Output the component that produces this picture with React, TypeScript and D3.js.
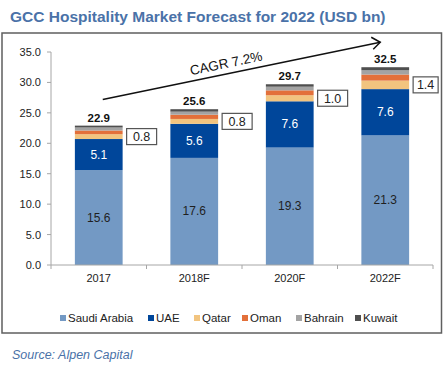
import * as d3 from "d3";

const W = 444, H = 368;
const FONT = "'Liberation Sans', Arial, sans-serif";

const years = ["2017", "2018F", "2020F", "2022F"];
const saudi = [15.6, 17.6, 19.3, 21.3];
const uae = [5.1, 5.6, 7.6, 7.6];
const qatar = [0.8, 0.8, 1.0, 1.4];
const oman = [0.6, 0.7, 0.8, 1.0];
const bahrain = [0.5, 0.5, 0.6, 0.7];
const kuwait = [0.3, 0.4, 0.4, 0.5];
const totals = [22.9, 25.6, 29.7, 32.5];
const yTicks = [0, 5, 10, 15, 20, 25, 30, 35];

const seriesNames = ["Saudi Arabia", "UAE", "Qatar", "Oman", "Bahrain", "Kuwait"];
const seriesColors = ["#7399C4", "#00469A", "#F2C47F", "#E3703A", "#A3A3A3", "#4F4F4F"];
const seriesVals = [saudi, uae, qatar, oman, bahrain, kuwait];

export default function App() {
  const x = d3.scaleBand<string>().domain(years).range([51, 433]).paddingInner(0.5).paddingOuter(0.25);
  const y = d3.scaleLinear([0, 35], [265, 52]);
  const bw = x.bandwidth();

  const table = years.map((yr, i) => {
    const row: Record<string, number | string> = { year: yr };
    seriesNames.forEach((n, k) => (row[n] = seriesVals[k][i]));
    return row;
  });
  const stacked = d3.stack<Record<string, number | string>>().keys(seriesNames)(table as any);

  // CAGR arrow: from above first bar to above last bar
  const ax1 = x("2017")! + bw / 2 + 4, ay1 = y(27.2);
  const ax2 = x("2022F")! + bw / 2 - 5, ay2 = y(36.6);
  const ang = (Math.atan2(ay2 - ay1, ax2 - ax1) * 180) / Math.PI;
  const tx = 227, ty = ay1 + ((tx - ax1) / (ax2 - ax1)) * (ay2 - ay1) - 6;

  const legendX = [60, 148, 194, 242, 296, 355];

  return (
    <svg width={W} height={H} style={{ position: "absolute", left: 0, top: 0, background: "#fff" }} fontFamily={FONT}>
      <text x={10} y={22} fontSize={15.5} fontWeight="bold" fill="#4A72A8">
        GCC Hospitality Market Forecast for 2022 (USD bn)
      </text>
      <rect x={2} y={33} width={439.5} height={300} fill="none" stroke="#5f5f5f" strokeWidth={1.5} />

      {/* y axis */}
      <line x1={51} x2={51} y1={y(35)} y2={y(0)} stroke="#a6a6a6" />
      {yTicks.map((t) => (
        <g key={t}>
          <line x1={47} x2={51} y1={y(t)} y2={y(t)} stroke="#a6a6a6" />
          <text x={41} y={y(t) + 4} fontSize={11} textAnchor="end" fill="#222">
            {t.toFixed(1)}
          </text>
        </g>
      ))}

      {/* bars */}
      {stacked.map((s, k) => (
        <g key={s.key}>
          {s.map((d, i) => (
            <rect
              key={i}
              x={x(years[i])!}
              y={y(d[1])}
              width={bw}
              height={y(d[0]) - y(d[1])}
              fill={seriesColors[k]}
            />
          ))}
        </g>
      ))}

      {/* x axis */}
      <line x1={51} x2={433} y1={y(0)} y2={y(0)} stroke="#a6a6a6" />
      {[0, 1, 2, 3, 4].map((i) => {
        const xx = 51 + i * x.step();
        return <line key={i} x1={xx} x2={xx} y1={y(0)} y2={y(0) + 4} stroke="#a6a6a6" />;
      })}
      {years.map((yr) => (
        <text key={yr} x={x(yr)! + bw / 2} y={282} fontSize={11} textAnchor="middle" fill="#222">
          {yr}
        </text>
      ))}

      {/* segment labels */}
      {years.map((yr, i) => {
        const cx = x(yr)! + bw / 2;
        const bx = x(yr)! + bw + 4;
        const bwid = i === 3 ? 25 : 30;
        const qy = y(saudi[i] + uae[i] + qatar[i] / 2);
        return (
          <g key={yr} fontSize={12}>
            <text x={cx} y={y(saudi[i] / 2) + 4} textAnchor="middle" fill="#1f1f1f">
              {saudi[i].toFixed(1)}
            </text>
            <text x={cx} y={y(saudi[i] + uae[i] / 2) + 4} textAnchor="middle" fill="#fff">
              {uae[i].toFixed(1)}
            </text>
            <text x={cx} y={y(totals[i]) - 4} textAnchor="middle" fontWeight="bold" fontSize={11.5} fill="#111">
              {totals[i].toFixed(1)}
            </text>
            <rect x={bx} y={qy - 8} width={bwid} height={16} fill="#fff" stroke="#555" strokeWidth={1.2} />
            <text x={bx + bwid / 2} y={qy + 4.5} textAnchor="middle" fontSize={12.5} fill="#222">
              {qatar[i].toFixed(1)}
            </text>
          </g>
        );
      })}

      {/* CAGR arrow */}
      <line x1={ax1} y1={ay1} x2={ax2} y2={ay2} stroke="#111" strokeWidth={1.5} />
      <path
        d={`M${ax2 - 9},${ay2 - 5} L${ax2},${ay2} L${ax2 - 7},${ay2 + 7}`}
        fill="none"
        stroke="#111"
        strokeWidth={1.5}
      />
      <text x={tx} y={ty} fontSize={13.5} textAnchor="middle" fill="#111" transform={`rotate(${ang},${tx},${ty})`}>
        CAGR 7.2%
      </text>

      {/* legend */}
      {seriesNames.map((n, k) => (
        <g key={n}>
          <rect x={legendX[k]} y={315} width={6} height={6} fill={seriesColors[k]} />
          <text x={legendX[k] + 8} y={322} fontSize={11.5} fill="#222">
            {n}
          </text>
        </g>
      ))}

      <text x={12} y={359} fontSize={12.5} fontStyle="italic" fill="#4A72A8">
        Source: Alpen Capital
      </text>
    </svg>
  );
}
